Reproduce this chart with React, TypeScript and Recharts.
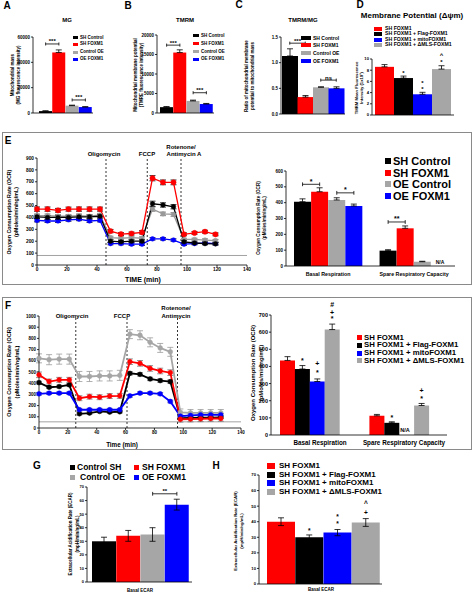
import React from 'react';
import { BarChart, Bar, Cell, XAxis, YAxis, ErrorBar, ReferenceLine, ReferenceDot, LineChart, Line } from 'recharts';

const FONT = '"Liberation Sans", Arial, Helvetica, sans-serif';
const BLACK = '#000000';
const RED = '#ff0000';
const GRAY = '#a6a6a6';
const BLUE = '#0000ff';

// ---------- Panels A–C ----------
const abcLabels = ['SH Control', 'SH FOXM1', 'Control OE', 'OE FOXM1'];
const abcColors = [BLACK, RED, GRAY, BLUE];
const mgValues = [1500, 47800, 5800, 4700];
const mgErrors = [200, 2000, 400, 300];
const mgTicks = [0, 20000, 40000, 60000];
const tmrmValues = [1500, 15500, 3100, 2300];
const tmrmErrors = [150, 700, 200, 150];
const tmrmTicks = [0, 5000, 10000, 15000, 20000];
const ratioValues = [1.13, 0.33, 0.52, 0.5];
const ratioErrors = [0.14, 0.03, 0.01, 0.03];
const ratioTicks = [0, 0.5, 1, 1.5];

// ---------- Panel D ----------
const dLabels = ['SH FOXM1', 'SH FOXM1 + Flag-FOXM1', 'SH FOXM1 + mitoFOXM1', 'SH FOXM1 + \u0394MLS-FOXM1'];
const dColors = [RED, BLACK, BLUE, GRAY];
const dValues = [8.6, 6.6, 3.7, 8.2];
const dErrors = [0.4, 0.35, 0.35, 0.6];
const dTicks = [0, 2, 4, 6, 8, 10];
const dMarks = [
  { bar: 1, y: 7.6, text: '*' },
  { bar: 2, y: 4.6, text: '*' },
  { bar: 2, y: 5.7, text: '*' },
  { bar: 3, y: 9.4, text: '*' },
  { bar: 3, y: 10.8, text: '^' },
];

// ---------- Panel E (time course) ----------
const eTimes = [0, 7, 14, 21, 28, 35, 42, 49, 56, 63, 70, 77, 84, 91, 98, 105, 112, 119];
const eRed = [470, 470, 460, 470, 470, 470, 470, 285, 260, 265, 275, 730, 695, 695, 258, 270, 280, 258];
const eRedErr = [18, 18, 16, 17, 18, 18, 17, 14, 12, 12, 14, 22, 20, 20, 12, 12, 12, 12];
const eBlack = [405, 400, 400, 400, 405, 405, 410, 200, 195, 200, 200, 515, 505, 490, 195, 185, 180, 178];
const eBlackErr = [14, 14, 14, 14, 14, 14, 14, 12, 12, 12, 12, 22, 18, 18, 10, 10, 10, 10];
const eGray = [415, 415, 410, 410, 415, 410, 420, 230, 225, 230, 225, 470, 430, 425, 215, 215, 210, 205];
const eGrayErr = [14, 14, 14, 14, 14, 14, 14, 12, 12, 12, 12, 18, 15, 15, 10, 10, 10, 10];
const eBlue = [375, 370, 370, 380, 385, 370, 375, 180, 180, 175, 175, 220, 220, 210, 175, 180, 185, 180];
const eBlueErr = [12, 12, 12, 12, 12, 12, 12, 10, 10, 10, 10, 10, 10, 10, 10, 10, 10, 10];
const eDrugTimes = [46, 73.5, 96];
const eXTicks = [0, 20, 40, 60, 80, 100, 120, 140];
const eYTicks = [0, 100, 200, 300, 400, 500, 600, 700, 800, 900];

// ---------- Panel E (bars) ----------
const respGroups = ['Basal Respiration', 'Spare Respiratory Capacity'];
const eSeriesLabels = ['SH Control', 'SH FOXM1', 'OE Control', 'OE FOXM1'];
const eSeriesColors = [BLACK, RED, GRAY, BLUE];
const eShControl = [406, 97];
const eShControlErr = [18, 6];
const eShFoxm1 = [469, 238];
const eShFoxm1Err = [25, 15];
const eOeControl = [417, 27];
const eOeControlErr = [14, 3];
const eOeFoxm1 = [379, null];
const eOeFoxm1Err = [12, null];
const eBarTicks = [0, 100, 200, 300, 400, 500, 600];

// ---------- Panel F (time course) ----------
const fTimes = [0, 7, 14, 21, 28, 35, 42, 49, 56, 63, 70, 77, 84, 91, 98, 105, 112, 119, 126];
const fGray = [622, 610, 615, 615, 460, 460, 465, 465, 470, 838, 828, 765, 715, 680, 140, 135, 135, 135, 135];
const fGrayErr = [40, 45, 45, 45, 45, 45, 45, 45, 45, 40, 40, 40, 40, 40, 30, 30, 30, 30, 30];
const fRed = [475, 415, 430, 430, 266, 280, 275, 285, 287, 592, 577, 532, 509, 494, 78, 80, 82, 85, 85];
const fRedErr = [25, 22, 22, 22, 22, 22, 22, 22, 22, 25, 25, 25, 25, 25, 25, 25, 25, 25, 25];
const fBlack = [405, 364, 370, 385, 127, 133, 148, 142, 145, 488, 479, 438, 423, 414, 89, 90, 92, 93, 95];
const fBlackErr = [12, 12, 12, 12, 10, 10, 10, 10, 10, 15, 15, 15, 15, 15, 10, 10, 10, 10, 10];
const fBlue = [305, 311, 311, 311, 163, 163, 163, 163, 163, 287, 311, 311, 305, 237, 105, 112, 118, 118, 118];
const fBlueErr = [12, 12, 12, 12, 12, 12, 12, 12, 12, 12, 12, 12, 12, 12, 12, 12, 12, 12, 12];
const fDrugTimes = [25.5, 61, 96];
const fYTicks = [0, 100, 200, 300, 400, 500, 600, 700, 800, 900, 1000];

// ---------- Panel F (bars) ----------
const fSeriesLabels = dLabels;
const fSeriesColors = [RED, BLACK, BLUE, GRAY];
const fShFoxm1 = [435, 112];
const fShFoxm1Err = [22, 8];
const fFlag = [385, 71];
const fFlagErr = [20, 6];
const fMito = [312, null];
const fMitoErr = [15, null];
const fDmls = [615, 172];
const fDmlsErr = [32, 12];
const fBarTicks = [0, 100, 200, 300, 400, 500, 600, 700];
const fMarks = [
  { g: 0, k: 1, y: 432, text: '*' },
  { g: 0, k: 2, y: 366, text: '*' },
  { g: 0, k: 2, y: 418, text: '+' },
  { g: 0, k: 3, y: 677, text: '*' },
  { g: 0, k: 3, y: 717, text: '+' },
  { g: 0, k: 3, y: 764, text: '#' },
  { g: 1, k: 1, y: 103, text: '*' },
  { g: 1, k: 3, y: 214, text: '*' },
  { g: 1, k: 3, y: 259, text: '+' },
];

// ---------- Panels G, H ----------
const gLabels = ['Control SH', 'SH FOXM1', 'Control OE', 'OE FOXM1'];
const gColors = [BLACK, RED, GRAY, BLUE];
const gValues = [30, 34, 35, 57];
const gErrors = [3, 4, 5, 4];
const hValues = [40, 30, 33, 39.5];
const hErrors = [2.5, 1.5, 2, 2.5];
const ecarTicks = [0, 10, 20, 30, 40, 50, 60, 70];
const hMarks = [
  { bar: 1, y: 34.5, text: '*' },
  { bar: 2, y: 38.8, text: '*' },
  { bar: 2, y: 43.2, text: '*' },
  { bar: 3, y: 45.7, text: '+' },
  { bar: 3, y: 51.5, text: '^' },
];

type Plot = { x0: number; y0: number; x1: number; y1: number };
type Bracket = { a: number; b: number; y: number; text: string; g?: number };
type Mark = { bar?: number; g?: number; k?: number; y: number; text: string };

function bracketEls(key: string, xa: any, xb: any, y: number, dy: number, text: string, font: number) {
  return [
    <ReferenceLine key={key + 'h'} segment={[{ x: xa, y }, { x: xb, y }]} stroke="#000" strokeWidth={0.8} ifOverflow="visible"
      label={{ value: text, position: 'top', offset: 0.5, fontSize: font, fontWeight: 700, fill: '#000' }} />,
    <ReferenceLine key={key + 'l'} segment={[{ x: xa, y: y - dy }, { x: xa, y: y + dy }]} stroke="#000" strokeWidth={0.8} ifOverflow="visible" />,
    <ReferenceLine key={key + 'r'} segment={[{ x: xb, y: y - dy }, { x: xb, y: y + dy }]} stroke="#000" strokeWidth={0.8} ifOverflow="visible" />,
  ];
}

function markEl(key: string, x: any, y: number, text: string, font: number) {
  return (
    <ReferenceDot key={key} x={x} y={y} r={0} fill="none" stroke="none" ifOverflow="visible"
      label={{ value: text, position: 'center', fontSize: font, fontWeight: 700, fill: '#000' }} />
  );
}

type SimpleProps = {
  labels: string[]; colors: string[]; values: number[]; errors: number[]; errUp: boolean;
  ticks: number[]; fmt?: (v: number) => string; plot: Plot; yW: number; pad: { left: number; right: number };
  tickFont: number; brackets?: Bracket[]; bracketFont?: number; marks?: Mark[]; markFont?: number;
};

function SimpleBars(p: SimpleProps) {
  const data = p.labels.map((name, i) => ({ name, value: p.values[i], err: p.errUp ? [0, p.errors[i]] : p.errors[i] }));
  const mt = 16, mr = 4, xH = 2;
  const w = p.yW + p.plot.x1 - p.plot.x0 + mr;
  const h = mt + p.plot.y1 - p.plot.y0 + xH;
  const max = p.ticks[p.ticks.length - 1];
  const dy = max * 0.02;
  return (
    <div style={{ position: 'absolute', left: p.plot.x0 - p.yW, top: p.plot.y0 - mt }}>
      <BarChart width={w} height={h} data={data} margin={{ top: mt, right: mr, bottom: 0, left: 0 }} barCategoryGap={0} barGap={0}>
        <XAxis dataKey="name" tick={false} tickLine={false} axisLine={{ stroke: '#000', strokeWidth: 0.8 }} height={xH} padding={p.pad} />
        <YAxis domain={[0, max]} ticks={p.ticks} interval={0} width={p.yW} tickFormatter={p.fmt as any}
          tick={{ fontSize: p.tickFont, fontWeight: 700, fill: '#000' }} tickSize={2} tickMargin={1}
          axisLine={{ stroke: '#000', strokeWidth: 0.8 }} tickLine={{ stroke: '#000', strokeWidth: 0.8 }} allowDataOverflow />
        <Bar dataKey="value" isAnimationActive={false}>
          {data.map((d, i) => <Cell key={i} fill={p.colors[i]} />)}
          <ErrorBar dataKey="err" width={3} stroke="#000" strokeWidth={0.8} />
        </Bar>
        {(p.brackets || []).flatMap((b, i) => bracketEls('b' + i, p.labels[b.a], p.labels[b.b], b.y, dy, b.text, p.bracketFont || 6))}
        {(p.marks || []).map((m, i) => markEl('m' + i, p.labels[m.bar as number], m.y, m.text, p.markFont || 6))}
      </BarChart>
    </div>
  );
}

type GroupSeries = { values: (number | null)[]; errors: (number | null)[]; color: string };
type GroupedProps = {
  groups: string[]; series: GroupSeries[]; seriesLabels: string[]; plot: Plot; yW: number; pad: { left: number; right: number };
  spacers: number; ticks: number[]; tickFont: number;
  brackets?: Bracket[]; bracketFont?: number; marks?: Mark[]; markFont?: number;
};

// each bar is its own category; spacer categories separate the groups
function GroupedBars(p: GroupedProps) {
  const barName = (g: number, k: number) => `${p.groups[g]} | ${p.seriesLabels[k]}`;
  const data: any[] = [];
  p.groups.forEach((g, gi) => {
    p.series.forEach((s, k) => {
      const e = s.errors[gi];
      data.push({ name: barName(gi, k), value: s.values[gi], err: e == null ? null : [0, e], color: s.color });
    });
    if (gi < p.groups.length - 1) {
      for (let j = 0; j < p.spacers; j++) data.push({ name: `gap${gi}-${j}`, value: null, err: null, color: 'none' });
    }
  });
  const mt = 26, mr = 4, xH = 2;
  const w = p.yW + p.plot.x1 - p.plot.x0 + mr;
  const h = mt + p.plot.y1 - p.plot.y0 + xH;
  const max = p.ticks[p.ticks.length - 1];
  const dy = max * 0.02;
  return (
    <div style={{ position: 'absolute', left: p.plot.x0 - p.yW, top: p.plot.y0 - mt }}>
      <BarChart width={w} height={h} data={data} margin={{ top: mt, right: mr, bottom: 0, left: 0 }} barCategoryGap={0} barGap={0}>
        <XAxis dataKey="name" tick={false} tickLine={false} axisLine={{ stroke: '#000', strokeWidth: 0.8 }} height={xH} padding={p.pad} />
        <YAxis domain={[0, max]} ticks={p.ticks} interval={0} width={p.yW}
          tick={{ fontSize: p.tickFont, fontWeight: 700, fill: '#000' }} tickSize={2} tickMargin={1}
          axisLine={{ stroke: '#000', strokeWidth: 0.8 }} tickLine={{ stroke: '#000', strokeWidth: 0.8 }} allowDataOverflow />
        <Bar dataKey="value" isAnimationActive={false}>
          {data.map((d, i) => <Cell key={i} fill={d.color} />)}
          <ErrorBar dataKey="err" width={3} stroke="#000" strokeWidth={0.8} />
        </Bar>
        {(p.brackets || []).flatMap((b, i) => bracketEls('b' + i, barName(b.g as number, b.a), barName(b.g as number, b.b), b.y, dy, b.text, p.bracketFont || 7))}
        {(p.marks || []).map((m, i) => markEl('m' + i, barName(m.g as number, m.k as number), m.y, m.text, p.markFont || 7))}
      </BarChart>
    </div>
  );
}

type LineSeries = { values: number[]; errors: number[]; color: string; errColor: string; r: number; width: number };
type LinesProps = {
  times: number[]; series: LineSeries[]; plot: Plot; yW: number; xH: number; yTicks: number[]; xTicks: number[];
  tickFont: number; drugs: number[]; baseline: number;
};

function OcrLines(p: LinesProps) {
  const data = p.times.map((t, i) => {
    const row: any = { t };
    p.series.forEach((s, k) => {
      row['s' + k] = s.values[i];
      row['e' + k] = s.errors[i];
    });
    return row;
  });
  const mt = 4, mr = 4;
  const w = p.yW + p.plot.x1 - p.plot.x0 + mr;
  const h = mt + p.plot.y1 - p.plot.y0 + p.xH;
  const yMax = p.yTicks[p.yTicks.length - 1];
  const xMax = p.xTicks[p.xTicks.length - 1];
  return (
    <div style={{ position: 'absolute', left: p.plot.x0 - p.yW, top: p.plot.y0 - mt }}>
      <LineChart width={w} height={h} data={data} margin={{ top: mt, right: mr, bottom: 0, left: 0 }}>
        <XAxis dataKey="t" type="number" domain={[0, xMax]} ticks={p.xTicks} interval={0} height={p.xH}
          tick={{ fontSize: p.tickFont, fontWeight: 700, fill: '#000' }} tickSize={2} tickMargin={1}
          axisLine={{ stroke: '#000', strokeWidth: 0.8 }} tickLine={{ stroke: '#000', strokeWidth: 0.8 }} />
        <YAxis domain={[0, yMax]} ticks={p.yTicks} interval={0} width={p.yW}
          tick={{ fontSize: p.tickFont, fontWeight: 700, fill: '#000' }} tickSize={2} tickMargin={1}
          axisLine={{ stroke: '#000', strokeWidth: 0.8 }} tickLine={{ stroke: '#000', strokeWidth: 0.8 }} />
        <ReferenceLine y={p.baseline} stroke="#8c8c8c" strokeWidth={0.8} />
        {p.drugs.map((d, i) => (
          <ReferenceLine key={'d' + i} x={d} stroke="#000" strokeWidth={0.8} strokeDasharray="2 2" />
        ))}
        {p.series.map((s, k) => (
          <Line key={k} dataKey={'s' + k} stroke={s.color} strokeWidth={s.width} isAnimationActive={false}
            dot={{ r: s.r, fill: s.color, stroke: s.color, strokeWidth: 0.5 }}>
            <ErrorBar dataKey={'e' + k} width={3} stroke={s.errColor} strokeWidth={0.8} />
          </Line>
        ))}
      </LineChart>
    </div>
  );
}

function Txt(props: { x: number; y: number; size: number; children: any; anchor?: 'start' | 'middle' | 'end'; rotate?: boolean; weight?: number }) {
  const a = props.anchor || 'middle';
  const tx = a === 'middle' ? '-50%' : a === 'end' ? '-100%' : '0';
  return (
    <div style={{
      position: 'absolute', left: props.x, top: props.y, fontSize: props.size, fontWeight: props.weight ?? 700,
      lineHeight: 1, whiteSpace: 'nowrap', color: '#000',
      transform: props.rotate ? 'translate(-50%,-50%) rotate(-90deg)' : `translate(${tx},-50%)`,
    }}>{props.children}</div>
  );
}

function LegendRows(props: { x: number; ys: number[]; labels: string[]; colors: string[]; size: number; sqW: number; sqH: number; gap: number }) {
  return (
    <>
      {props.labels.map((l, i) => (
        <React.Fragment key={i}>
          <div style={{ position: 'absolute', left: props.x, top: props.ys[i] - props.sqH / 2, width: props.sqW, height: props.sqH, background: props.colors[i] }} />
          <Txt x={props.x + props.sqW + props.gap} y={props.ys[i]} size={props.size} anchor="start">{l}</Txt>
        </React.Fragment>
      ))}
    </>
  );
}

export default function App() {
  return (
    <div style={{ position: 'absolute', left: 0, top: 0, width: 474, height: 595, background: '#fff', overflow: 'hidden', fontFamily: FONT }}>
      {/* ---------- A ---------- */}
      <Txt x={7} y={6} size={10}>A</Txt>
      <Txt x={67} y={20} size={6}>MG</Txt>
      <Txt x={13} y={75} size={4.5} rotate>Mitochondrial mass</Txt>
      <Txt x={19} y={75} size={4.5} rotate>(MG fluorescence intensity)</Txt>
      <SimpleBars labels={abcLabels} colors={abcColors} values={mgValues} errors={mgErrors} errUp ticks={mgTicks}
        plot={{ x0: 33, y0: 37, x1: 93, y1: 113 }} yW={20} pad={{ left: 6, right: 1 }} tickFont={4.5}
        brackets={[{ a: 0, b: 1, y: 54500, text: '***' }, { a: 2, b: 3, y: 10300, text: '***' }]} bracketFont={6} />
      <LegendRows x={73} ys={[37.5, 44, 52, 59]} labels={abcLabels} colors={abcColors} size={4.5} sqW={5} sqH={3} gap={2} />

      {/* ---------- B ---------- */}
      <Txt x={128} y={6} size={10}>B</Txt>
      <Txt x={185} y={20} size={6}>TMRM</Txt>
      <Txt x={136} y={75} size={4.5} rotate>Mitochondrial membrane potential</Txt>
      <Txt x={142} y={75} size={4.5} rotate>(TMRE fluorescence intensity)</Txt>
      <SimpleBars labels={abcLabels} colors={abcColors} values={tmrmValues} errors={tmrmErrors} errUp ticks={tmrmTicks}
        plot={{ x0: 157, y0: 35, x1: 214, y1: 113 }} yW={20} pad={{ left: 3, right: 1 }} tickFont={4.5}
        brackets={[{ a: 0, b: 1, y: 17400, text: '***' }, { a: 2, b: 3, y: 5200, text: '***' }]} bracketFont={6} />
      <LegendRows x={193} ys={[35.5, 43.5, 51.5, 59]} labels={abcLabels} colors={abcColors} size={4.5} sqW={6} sqH={3} gap={2} />

      {/* ---------- C ---------- */}
      <Txt x={239} y={5} size={10}>C</Txt>
      <Txt x={303} y={20} size={6}>TMRM/MG</Txt>
      <Txt x={247} y={76} size={4.5} rotate>Ratio of mitochondrial membrane</Txt>
      <Txt x={253} y={76} size={4.5} rotate>potential to mitochondrial mass</Txt>
      <SimpleBars labels={abcLabels} colors={abcColors} values={ratioValues} errors={ratioErrors} errUp ticks={ratioTicks}
        fmt={(v) => v.toFixed(1)} plot={{ x0: 281, y0: 37, x1: 345, y1: 114 }} yW={14} pad={{ left: 1, right: 1 }} tickFont={4.5}
        brackets={[{ a: 0, b: 1, y: 1.38, text: '***' }, { a: 2, b: 3, y: 0.66, text: 'ns' }]} bracketFont={6} />
      <LegendRows x={301} ys={[38, 45, 53, 60.5]} labels={abcLabels} colors={abcColors} size={5} sqW={10} sqH={4} gap={2} />

      {/* ---------- D ---------- */}
      <Txt x={360} y={5} size={10}>D</Txt>
      <Txt x={412} y={16} size={8}>Membrane Potential (&Delta;&psi;m)</Txt>
      <LegendRows x={374} ys={[29, 34.3, 39.6, 45]} labels={dLabels} colors={dColors} size={5.2} sqW={8} sqH={4.2} gap={3} />
      <Txt x={357} y={88} size={4.2} rotate>TMRM Mean Fluorescence</Txt>
      <Txt x={362} y={88} size={4.2} rotate>Intensity (1x10&sup3;)</Txt>
      <SimpleBars labels={dLabels} colors={dColors} values={dValues} errors={dErrors} errUp ticks={dTicks}
        plot={{ x0: 372, y0: 59, x1: 454, y1: 115 }} yW={8} pad={{ left: 3, right: 3 }} tickFont={4.2}
        marks={dMarks} markFont={6} />

      {/* ---------- E ---------- */}
      <div style={{ position: 'absolute', left: 2, top: 132, width: 468, height: 151, border: '1px solid #8a8a8a' }} />
      <Txt x={8} y={141} size={10}>E</Txt>
      <Txt x={104} y={154} size={6}>Oligomycin</Txt>
      <Txt x={147} y={154} size={6}>FCCP</Txt>
      <Txt x={181} y={147} size={6}>Rotenone/</Txt>
      <Txt x={184} y={154} size={6}>Antimycin A</Txt>
      <Txt x={10} y={212} size={5.3} rotate>Oxygen Consumption Rate (OCR)</Txt>
      <Txt x={17} y={212} size={5.3} rotate>(pMoles/min/ng/mL)</Txt>
      <OcrLines times={eTimes} plot={{ x0: 37, y0: 158, x1: 247, y1: 265 }} yW={16} xH={9}
        yTicks={eYTicks} xTicks={eXTicks} tickFont={4.8} drugs={eDrugTimes} baseline={80}
        series={[
          { values: eBlue, errors: eBlueErr, color: BLUE, errColor: '#000', r: 2.3, width: 1.3 },
          { values: eGray, errors: eGrayErr, color: '#999999', errColor: '#666', r: 2.3, width: 1.3 },
          { values: eBlack, errors: eBlackErr, color: BLACK, errColor: '#000', r: 2.3, width: 1.3 },
          { values: eRed, errors: eRedErr, color: RED, errColor: '#000', r: 2.6, width: 1.3 },
        ]} />
      <Txt x={143} y={279} size={7}>TIME (min)</Txt>

      <Txt x={259} y={218} size={4.6} rotate>Oxygen Consumption Rate (OCR)</Txt>
      <Txt x={265} y={218} size={4.6} rotate>(pMoles/min/ng/mL)</Txt>
      <GroupedBars groups={respGroups} seriesLabels={eSeriesLabels} plot={{ x0: 286, y0: 171, x1: 455, y1: 266 }} yW={16}
        pad={{ left: 8, right: 7 }} spacers={1} ticks={eBarTicks} tickFont={4.5}
        series={[
          { values: eShControl, errors: eShControlErr, color: BLACK },
          { values: eShFoxm1, errors: eShFoxm1Err, color: RED },
          { values: eOeControl, errors: eOeControlErr, color: GRAY },
          { values: eOeFoxm1, errors: eOeFoxm1Err, color: BLUE },
        ]}
        brackets={[
          { g: 0, a: 0, b: 1, y: 516, text: '*' },
          { g: 0, a: 2, b: 3, y: 462, text: '*' },
          { g: 1, a: 0, b: 1, y: 278, text: '**' },
        ]} bracketFont={7} />
      <Txt x={328} y={275} size={5.3}>{respGroups[0]}</Txt>
      <Txt x={414} y={275} size={5.3}>{respGroups[1]}</Txt>
      <Txt x={440} y={262} size={5}>N/A</Txt>
      <LegendRows x={385} ys={[161, 172.5, 184, 195.5]} labels={eSeriesLabels} colors={eSeriesColors} size={11} sqW={6} sqH={6} gap={2} />

      {/* ---------- F ---------- */}
      <div style={{ position: 'absolute', left: 2, top: 297, width: 468, height: 151, border: '1px solid #8a8a8a' }} />
      <Txt x={8} y={306} size={10}>F</Txt>
      <Txt x={72} y={316} size={6}>Oligomycin</Txt>
      <Txt x={122} y={316} size={6}>FCCP</Txt>
      <Txt x={176} y={308} size={6}>Rotenone/</Txt>
      <Txt x={176} y={316} size={6}>Antimycin</Txt>
      <Txt x={10} y={372} size={5.6} rotate>Oxygen Consumption Rate (OCR)</Txt>
      <Txt x={18} y={372} size={5.6} rotate>(pMoles/min/ng/mL)</Txt>
      <OcrLines times={fTimes} plot={{ x0: 39, y0: 316, x1: 241, y1: 428 }} yW={18} xH={9}
        yTicks={fYTicks} xTicks={eXTicks} tickFont={4.5} drugs={fDrugTimes} baseline={55}
        series={[
          { values: fGray, errors: fGrayErr, color: GRAY, errColor: '#9a9a9a', r: 2.4, width: 1.8 },
          { values: fBlack, errors: fBlackErr, color: BLACK, errColor: '#777', r: 2.4, width: 1.8 },
          { values: fBlue, errors: fBlueErr, color: BLUE, errColor: '#777', r: 2.4, width: 1.8 },
          { values: fRed, errors: fRedErr, color: RED, errColor: '#777', r: 2.4, width: 1.8 },
        ]} />
      <Txt x={122} y={445} size={6.3}>Time (min)</Txt>

      <Txt x={253} y={373} size={6} rotate>Oxygen Consumption Rate (OCR)</Txt>
      <Txt x={261} y={373} size={6} rotate>(pMoles/min/ng/mL)</Txt>
      <GroupedBars groups={respGroups} seriesLabels={fSeriesLabels} plot={{ x0: 271, y0: 315, x1: 447, y1: 435 }} yW={18}
        pad={{ left: 9, right: 18 }} spacers={2} ticks={fBarTicks} tickFont={5.5}
        series={[
          { values: fShFoxm1, errors: fShFoxm1Err, color: RED },
          { values: fFlag, errors: fFlagErr, color: BLACK },
          { values: fMito, errors: fMitoErr, color: BLUE },
          { values: fDmls, errors: fDmlsErr, color: GRAY },
        ]}
        marks={fMarks} markFont={7} />
      <Txt x={320} y={443} size={6.3}>{respGroups[0]}</Txt>
      <Txt x={404} y={443} size={6.3}>{respGroups[1]}</Txt>
      <Txt x={405} y={431} size={5.5}>N/A</Txt>
      <LegendRows x={357} ys={[337.5, 345.3, 353.1, 360.9]} labels={fSeriesLabels} colors={fSeriesColors} size={7.8} sqW={5} sqH={5} gap={2} />

      {/* ---------- G ---------- */}
      <Txt x={37} y={466} size={10}>G</Txt>
      <LegendRows x={70} ys={[467]} labels={[gLabels[0]]} colors={[gColors[0]]} size={8.5} sqW={5} sqH={5} gap={2} />
      <LegendRows x={134} ys={[467]} labels={[gLabels[1]]} colors={[gColors[1]]} size={8.5} sqW={5} sqH={5} gap={3} />
      <LegendRows x={70} ys={[477]} labels={[gLabels[2]]} colors={[gColors[2]]} size={8.5} sqW={5} sqH={5} gap={5} />
      <LegendRows x={134} ys={[477]} labels={[gLabels[3]]} colors={[gColors[3]]} size={8.5} sqW={5} sqH={5} gap={3} />
      <Txt x={71} y={534} size={4.5} rotate>Extracellular Acidification Rate (ECAR)</Txt>
      <Txt x={78} y={534} size={4.5} rotate>(mpH/min/ng/mL)</Txt>
      <SimpleBars labels={gLabels} colors={gColors} values={gValues} errors={gErrors} errUp={false} ticks={ecarTicks}
        plot={{ x0: 87, y0: 487, x1: 192, y1: 582 }} yW={10} pad={{ left: 5, right: 3 }} tickFont={4}
        brackets={[{ a: 2, b: 3, y: 65, text: '**' }]} bracketFont={6} />
      <Txt x={140} y={591} size={4.5}>Basal ECAR</Txt>

      {/* ---------- H ---------- */}
      <Txt x={216} y={466} size={10}>H</Txt>
      <LegendRows x={267} ys={[466, 474.5, 483, 491.5]} labels={dLabels} colors={dColors} size={8} sqW={8} sqH={6} gap={4} />
      <Txt x={236} y={531} size={4.3} rotate>Extracellular Acidification Rate (ECAR)</Txt>
      <Txt x={242} y={531} size={4.3} rotate>(mpH/min/ng/mL)</Txt>
      <SimpleBars labels={dLabels} colors={dColors} values={hValues} errors={hErrors} errUp={false} ticks={ecarTicks}
        plot={{ x0: 259, y0: 475, x1: 382, y1: 584 }} yW={10} pad={{ left: 8, right: 2 }} tickFont={4.2}
        marks={hMarks} markFont={6.5} />
      <Txt x={321} y={590} size={4.5}>Basal ECAR</Txt>
    </div>
  );
}
